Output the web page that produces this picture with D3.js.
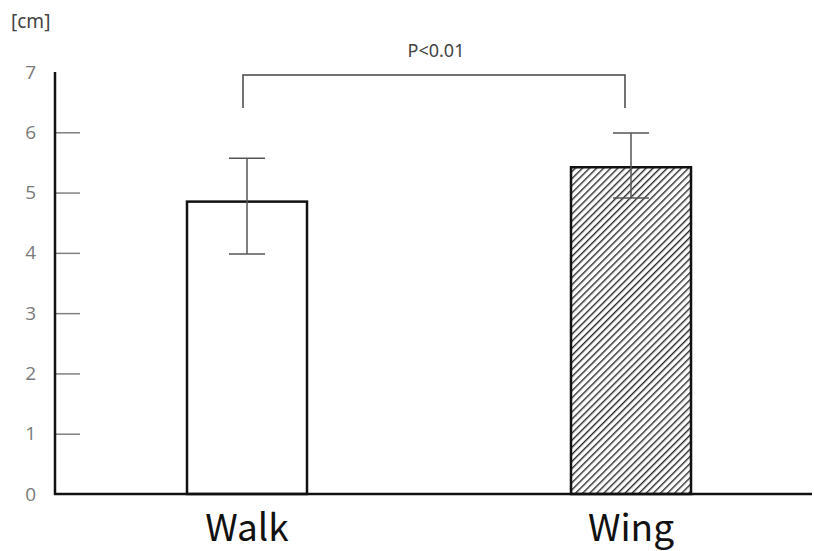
<!DOCTYPE html>
<html>
<head>
<meta charset="utf-8">
<script src="https://cdn.jsdelivr.net/npm/d3@7"></script>
<style>
  body { margin: 0; background: #fff; }
  svg { display: block; }
</style>
</head>
<body>
<div id="chart"></div>
<script>
// Data
const categories = ["Walk", "Wing"];
const means = [4.85, 5.42];
const errHigh = [5.57, 5.99];   // top of error bar
const errLow = [3.98, 4.91];    // bottom of error bar
const yTicks = [0, 1, 2, 3, 4, 5, 6, 7];
const unitLabel = "[cm]";
const sigLabel = "P<0.01";

const width = 814, height = 551;

const svg = d3.select("#chart")
  .append("svg")
  .attr("width", width)
  .attr("height", height);

// hatch pattern for the second bar
const defs = svg.append("defs");
const pat = defs.append("pattern")
  .attr("id", "hatch")
  .attr("patternUnits", "userSpaceOnUse")
  .attr("width", 5)
  .attr("height", 5)
  .attr("patternTransform", "rotate(45)");
pat.append("rect").attr("width", 5).attr("height", 5).attr("fill", "#fff");
pat.append("line")
  .attr("x1", 0).attr("y1", 0).attr("x2", 0).attr("y2", 5)
  .attr("stroke", "#2a2a2a").attr("stroke-width", 2.8);

const x = d3.scalePoint()
  .domain(categories)
  .range([55, 823])
  .padding(0.5);

const y = d3.scaleLinear()
  .domain([0, 7])
  .range([494, 72]);

const barWidth = 120;
const capWidth = 36;

// y axis: ticks point right, labels on the left
const yAxis = svg.append("g")
  .attr("transform", "translate(55,0)")
  .call(d3.axisLeft(y).tickValues(yTicks).tickFormat(d3.format("d")).tickSize(-25).tickPadding(19));
yAxis.select(".domain").remove();
yAxis.selectAll(".tick line")
  .attr("stroke", "#808080")
  .attr("stroke-width", 1.5)
  .filter(d => d === 0 || d === 7).remove();
yAxis.selectAll(".tick text")
  .attr("fill", "#7a7a7a")
  .style("font-family", "'Open Sans', 'Noto Sans', sans-serif")
  .style("font-size", "19px");

// bars
svg.selectAll(".bar")
  .data(categories)
  .join("rect")
  .attr("class", "bar")
  .attr("x", d => x(d) - barWidth / 2)
  .attr("y", (d, i) => y(means[i]))
  .attr("width", barWidth)
  .attr("height", (d, i) => y(0) - y(means[i]))
  .attr("fill", (d, i) => i === 1 ? "url(#hatch)" : "#fff")
  .attr("stroke", "#111")
  .attr("stroke-width", 2.5);

// error bars
const eb = svg.selectAll(".err")
  .data(categories)
  .join("g")
  .attr("class", "err")
  .attr("stroke", "#555")
  .attr("stroke-width", 1.5);
eb.append("line")
  .attr("x1", d => x(d)).attr("x2", d => x(d))
  .attr("y1", (d, i) => y(errHigh[i]))
  .attr("y2", (d, i) => y(errLow[i]));
eb.append("line")
  .attr("x1", d => x(d) - capWidth / 2).attr("x2", d => x(d) + capWidth / 2)
  .attr("y1", (d, i) => y(errHigh[i])).attr("y2", (d, i) => y(errHigh[i]));
eb.append("line")
  .attr("x1", d => x(d) - capWidth / 2).attr("x2", d => x(d) + capWidth / 2)
  .attr("y1", (d, i) => y(errLow[i])).attr("y2", (d, i) => y(errLow[i]));

// axis lines
svg.append("line")
  .attr("x1", 55).attr("x2", 55)
  .attr("y1", y(7)).attr("y2", y(0) + 1)
  .attr("stroke", "#111").attr("stroke-width", 2.5);
svg.append("line")
  .attr("x1", 54).attr("x2", 812)
  .attr("y1", y(0)).attr("y2", y(0))
  .attr("stroke", "#111").attr("stroke-width", 2.5);

// significance bracket
const bracketY = 75, legBottom = 108;
const bx1 = x(categories[0]) - 4, bx2 = x(categories[1]) - 6;
svg.append("path")
  .attr("d", `M${bx1},${legBottom}V${bracketY}H${bx2}V${legBottom}`)
  .attr("fill", "none")
  .attr("stroke", "#444")
  .attr("stroke-width", 1.5);
svg.append("text")
  .attr("x", (bx1 + bx2) / 2 + 2)
  .attr("y", 57)
  .attr("text-anchor", "middle")
  .attr("fill", "#444")
  .style("font-family", "'Noto Sans', sans-serif")
  .style("font-size", "18px")
  .text(sigLabel);

// unit label
svg.append("text")
  .attr("x", 11)
  .attr("y", 28)
  .attr("fill", "#444")
  .style("font-family", "'Noto Sans', sans-serif")
  .style("font-size", "19px")
  .text(unitLabel);

// category labels
svg.selectAll(".cat")
  .data(categories)
  .join("text")
  .attr("class", "cat")
  .attr("x", d => x(d))
  .attr("y", 541)
  .attr("text-anchor", "middle")
  .attr("fill", "#111")
  .style("font-family", "'Noto Sans CJK JP', 'Noto Sans', sans-serif")
  .style("font-size", "37px")
  .text(d => d);
</script>
</body>
</html>
